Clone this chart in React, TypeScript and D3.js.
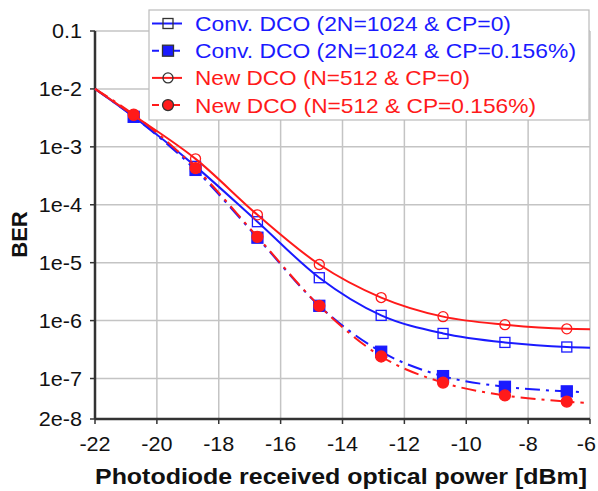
import React from "react";
import * as d3 from "d3";

const X_TICKS = [-22, -20, -18, -16, -14, -12, -10, -8, -6];
const Y_TICKS = [0.1, 1e-2, 1e-3, 1e-4, 1e-5, 1e-6, 1e-7, 2e-8];
const Y_TICK_LABELS = ["0.1", "1e-2", "1e-3", "1e-4", "1e-5", "1e-6", "1e-7", "2e-8"];

// measured points (markers)
const POWER = [-20.75, -18.75, -16.75, -14.75, -12.75, -10.75, -8.75, -6.75];
const CONV_CP0 = [3.3e-3, 4.6e-4, 5.1e-5, 5.5e-6, 1.23e-6, 6.0e-7, 4.2e-7, 3.5e-7];
const CONV_CP156 = [3.3e-3, 4.0e-4, 2.7e-5, 1.8e-6, 2.9e-7, 1.1e-7, 7.2e-8, 6.0e-8];
const NEW_CP0 = [3.5e-3, 6.2e-4, 6.7e-5, 9.3e-6, 2.5e-6, 1.17e-6, 8.5e-7, 7.2e-7];
const NEW_CP156 = [3.6e-3, 4.3e-4, 2.8e-5, 1.8e-6, 2.4e-7, 8.5e-8, 5.1e-8, 4.0e-8];

// line extension (start point and end point of each curve)
const LINE_START = { x: -22, y: 1e-2 };
const CONV_CP0_END = { x: -6, y: 3.4e-7 };
const CONV_CP156_END = { x: -6.2, y: 5.8e-8 };
const NEW_CP0_END = { x: -6, y: 7.1e-7 };
const NEW_CP156_END = { x: -6.2, y: 3.8e-8 };

const LABELS = [
  "Conv. DCO (2N=1024 & CP=0)",
  "Conv. DCO (2N=1024 & CP=0.156%)",
  "New DCO (N=512 & CP=0)",
  "New DCO (N=512 & CP=0.156%)",
];
const LABEL_WIDTHS = [316, 381, 275, 341];

const BLUE = "#1a1aff";
const RED = "#ff1a1a";
const FONT = "'Liberation Sans', Arial, sans-serif";

type Series = {
  label: string;
  values: number[];
  end: { x: number; y: number };
  color: string;
  dashed: boolean;
  marker: "square" | "circle";
  filled: boolean;
};

const SERIES: Series[] = [
  { label: LABELS[0], values: CONV_CP0, end: CONV_CP0_END, color: BLUE, dashed: false, marker: "square", filled: false },
  { label: LABELS[1], values: CONV_CP156, end: CONV_CP156_END, color: BLUE, dashed: true, marker: "square", filled: true },
  { label: LABELS[2], values: NEW_CP0, end: NEW_CP0_END, color: RED, dashed: false, marker: "circle", filled: false },
  { label: LABELS[3], values: NEW_CP156, end: NEW_CP156_END, color: RED, dashed: true, marker: "circle", filled: true },
];

const W = 598;
const H = 491;
const L = 95, R = 590, T = 31, B = 419;
const DASH = "15,6,3,6";
const SX = 1.08;

function Marker({ x, y, kind, filled, color, stroke }: { x: number; y: number; kind: string; filled: boolean; color: string; stroke?: string }) {
  const s = stroke ?? color;
  if (kind === "square") {
    const h = filled ? 5.5 : 5;
    return <rect x={x - h} y={y - h} width={2 * h} height={2 * h} fill={filled ? color : "white"} fillOpacity={filled ? 1 : 0} stroke={s} strokeWidth={1.3} />;
  }
  const r = filled ? 5.5 : 5;
  return <circle cx={x} cy={y} r={r} fill={filled ? color : "white"} fillOpacity={filled ? 1 : 0} stroke={s} strokeWidth={1.3} />;
}

export default function App() {
  const x = d3.scaleLinear().domain([-22, -6]).range([L, R]);
  const y = d3.scaleLog().domain([2e-8, 0.1]).range([B, T]);
  const line = d3
    .line<{ x: number; y: number }>()
    .x((d) => x(d.x))
    .y((d) => y(d.y))
    .curve(d3.curveMonotoneX);

  return (
    <svg width={W} height={H} style={{ display: "block", position: "absolute", left: 0, top: 0 }}>
      <rect x={0} y={0} width={W} height={H} fill="white" />
      {/* grid */}
      {X_TICKS.slice(1).map((t) => (
        <line key={"gx" + t} x1={x(t)} x2={x(t)} y1={T} y2={B} stroke="#c4c4c4" strokeWidth={1.5} />
      ))}
      {Y_TICKS.slice(0, -1).map((t) => (
        <line key={"gy" + t} x1={L} x2={R} y1={y(t)} y2={y(t)} stroke="#c4c4c4" strokeWidth={1.5} />
      ))}
      {/* axes */}
      <line x1={L} x2={L} y1={T} y2={B} stroke="#333" strokeWidth={2.5} />
      <line x1={L} x2={R} y1={B} y2={B} stroke="#333" strokeWidth={2.5} />
      {X_TICKS.map((t) => (
        <line key={"tx" + t} x1={x(t)} x2={x(t)} y1={B} y2={B + 5} stroke="#333" strokeWidth={1.5} />
      ))}
      {Y_TICKS.map((t) => (
        <line key={"ty" + t} x1={L - 5} x2={L} y1={y(t)} y2={y(t)} stroke="#333" strokeWidth={1.5} />
      ))}
      {X_TICKS.map((t, i) => {
        const last = i === X_TICKS.length - 1;
        return (
          <text
            key={"lx" + t}
            transform={`translate(${last ? W - 2 : x(t)},451) scale(${SX},1)`}
            textAnchor={last ? "end" : "middle"}
            fontFamily={FONT}
            fontSize={20}
            fill="#111"
          >
            {String(t)}
          </text>
        );
      })}
      {Y_TICKS.map((t, i) => (
        <text key={"ly" + t} transform={`translate(${L - 13},${y(t) + 7}) scale(${SX},1)`} textAnchor="end" fontFamily={FONT} fontSize={20} fill="#111">
          {Y_TICK_LABELS[i]}
        </text>
      ))}
      <text x={95} y={484} textLength={492} lengthAdjust="spacingAndGlyphs" fontFamily={FONT} fontSize={22} fontWeight="bold" fill="#111">
        Photodiode received optical power [dBm]
      </text>
      <text transform={`translate(27,234.5) rotate(-90)`} textAnchor="middle" fontFamily={FONT} fontSize={22} fontWeight="bold" fill="#111">
        BER
      </text>
      {/* series */}
      {SERIES.map((s, si) => {
        const pts = [LINE_START, ...POWER.map((p, i) => ({ x: p, y: s.values[i] })), s.end];
        return (
          <g key={"s" + si}>
            <path d={line(pts) ?? ""} fill="none" stroke={s.color} strokeWidth={2} strokeDasharray={s.dashed ? DASH : undefined} />
            {POWER.map((p, i) => (
              <Marker key={i} x={x(p)} y={y(s.values[i])} kind={s.marker} filled={s.filled} color={s.color} />
            ))}
          </g>
        );
      })}
      {/* legend */}
      <g>
        <rect x={149} y={10} width={440} height={110} fill="white" stroke="#bbb" strokeWidth={1.2} />
        {SERIES.map((s, i) => {
          const base = 31 + i * 27.2;
          const cy = base - 7.5;
          return (
            <g key={"lg" + i}>
              <line x1={152} x2={182} y1={cy} y2={cy} stroke={s.color} strokeWidth={2} strokeDasharray={s.dashed ? "7,4,2,3,2,3" : undefined} />
              <Marker x={168} y={cy} kind={s.marker} filled={s.filled} color={s.color} stroke="#333" />
              <text x={195} y={base} textLength={LABEL_WIDTHS[i]} lengthAdjust="spacingAndGlyphs" fontFamily={FONT} fontSize={21} fill={s.color}>
                {s.label}
              </text>
            </g>
          );
        })}
      </g>
    </svg>
  );
}
